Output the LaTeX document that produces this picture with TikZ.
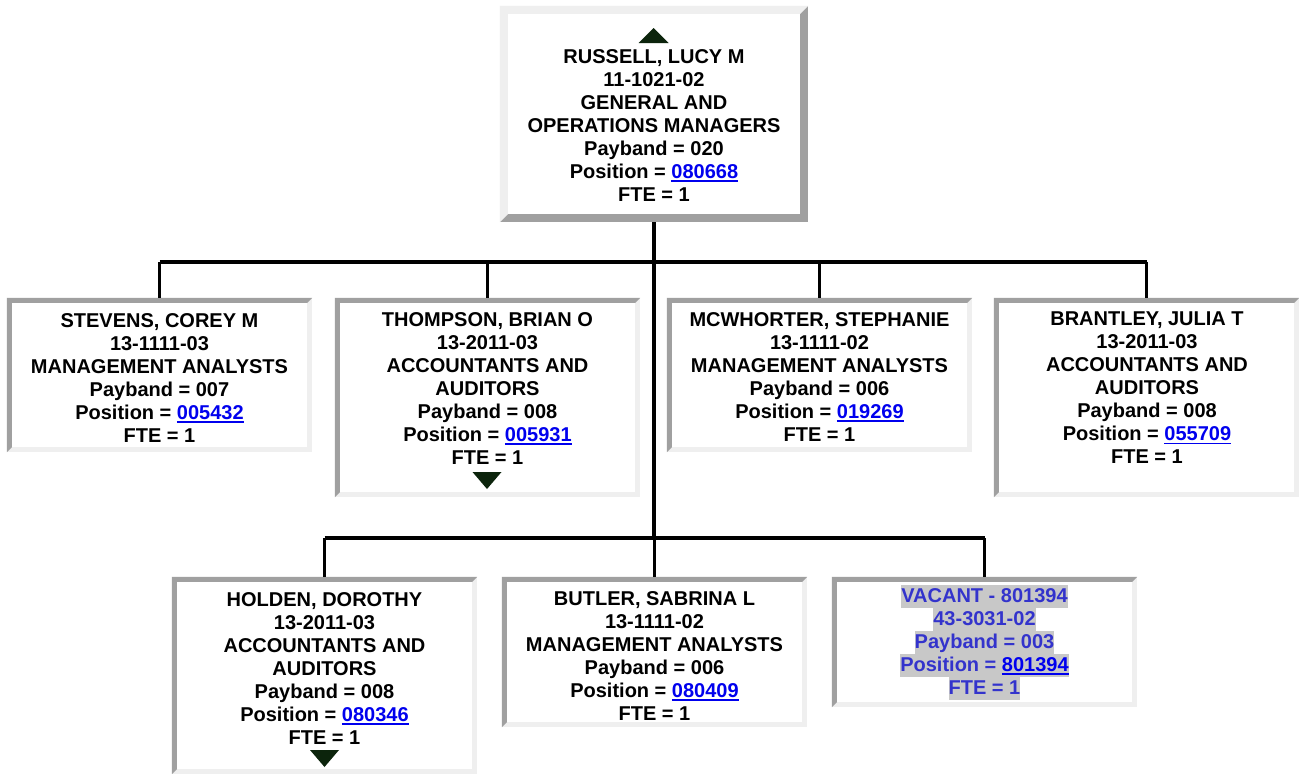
\documentclass[tikz,border=0pt]{standalone}
\usepackage{fontspec}
\setmainfont{Liberation Sans}
\definecolor{bdark}{RGB}{160,160,160}
\definecolor{blight}{RGB}{239,239,239}
\definecolor{linkblue}{RGB}{0,0,238}
\definecolor{vacblue}{RGB}{51,51,204}
\definecolor{hlgray}{RGB}{200,200,200}
\definecolor{tricol}{RGB}{12,36,12}
\newcommand\lnk[1]{{\color{linkblue}\setbox0\hbox{#1}\rlap{\copy0}\rule[-3.4pt]{\wd0}{1.7pt}}}
\newcommand\hl[1]{{\setlength\fboxsep{0pt}\colorbox{hlgray}{\rule[-5.5pt]{0pt}{23pt}#1}}}
\newcommand\bevel[4]{%
  \fill[#4] (#1.north west) rectangle (#1.south east);
  \fill[#3] (#1.north west) -- (#1.north east) -- ([shift={(-#2,-#2)}]#1.north east)
     -- ([shift={(#2,-#2)}]#1.north west) -- ([shift={(#2,#2)}]#1.south west) -- (#1.south west) -- cycle;
  \fill[white] ([shift={(#2,-#2)}]#1.north west) rectangle ([shift={(-#2,#2)}]#1.south east);}
\tikzset{
  orgbox/.style={rectangle, draw=none, inner sep=0pt, minimum width=305pt},
  txt/.style={align=center, inner sep=0pt, anchor=north,
    font=\fontsize{20}{23}\selectfont\bfseries},
  conn/.style={line width=3.6pt, black},
  tri/.style={fill=tricol}
}
\begin{document}
\begin{tikzpicture}[x=1pt,y=-1pt]
\useasboundingbox (0,0) rectangle (1299,774);
\fill[white] (0,0) rectangle (1299,774);
% boxes
\node[orgbox, minimum width=308pt, minimum height=216pt] (russell) at (654,114) {};
\node[orgbox, minimum height=154pt] (stevens) at (159.5,375) {};
\node[orgbox, minimum height=199pt] (thompson) at (487.5,397.5) {};
\node[orgbox, minimum height=154pt] (mcwhorter) at (819.5,375) {};
\node[orgbox, minimum height=199pt] (brantley) at (1146.5,397.5) {};
\node[orgbox, minimum height=197pt] (holden) at (324.5,675.5) {};
\node[orgbox, minimum height=150pt] (butler) at (654.5,652) {};
\node[orgbox, minimum height=130pt] (vacant) at (984.5,642) {};
\bevel{russell}{8pt}{blight}{bdark}
\foreach \b in {stevens,thompson,mcwhorter,brantley,holden,butler,vacant}{\bevel{\b}{5pt}{bdark}{blight}}
% connectors
\coordinate (j1) at (654,262);
\coordinate (j2) at (654,538);
\draw[conn] (russell.south) -- (j2);
\draw[conn] (stevens.north |- j1) -- (brantley.north |- j1);
\draw[conn] (holden.north |- j2) -- (vacant.north |- j2);
\foreach \b in {stevens,thompson,mcwhorter,brantley}{\draw[conn] (\b.north |- j1) -- (\b.north);}
\foreach \b in {holden,butler,vacant}{\draw[conn] (\b.north |- j2) -- (\b.north);}
% texts
\node[txt] (russell-t) at (654,49) {RUSSELL, LUCY M\\11-1021-02\\GENERAL AND\\OPERATIONS MANAGERS\\Payband = 020\\Position = \lnk{080668}\\FTE = 1};
\node[txt] (stevens-t) at (159.5,313) {STEVENS, COREY M\\13-1111-03\\MANAGEMENT ANALYSTS\\Payband = 007\\Position = \lnk{005432}\\FTE = 1};
\node[txt] (thompson-t) at (487.5,312) {THOMPSON, BRIAN O\\13-2011-03\\ACCOUNTANTS AND\\AUDITORS\\Payband = 008\\Position = \lnk{005931}\\FTE = 1};
\node[txt] (mcwhorter-t) at (819.5,312) {MCWHORTER, STEPHANIE\\13-1111-02\\MANAGEMENT ANALYSTS\\Payband = 006\\Position = \lnk{019269}\\FTE = 1};
\node[txt] (brantley-t) at (1147,312) {BRANTLEY, JULIA T\\13-2011-03\\ACCOUNTANTS AND\\AUDITORS\\Payband = 008\\Position = \lnk{055709}\\FTE = 1};
\node[txt] (holden-t) at (324.5,592) {HOLDEN, DOROTHY\\13-2011-03\\ACCOUNTANTS AND\\AUDITORS\\Payband = 008\\Position = \lnk{080346}\\FTE = 1};
\node[txt] (butler-t) at (654.5,591) {BUTLER, SABRINA L\\13-1111-02\\MANAGEMENT ANALYSTS\\Payband = 006\\Position = \lnk{080409}\\FTE = 1};
\node[txt, text=vacblue] (vacant-t) at (984.5,585) {\hl{VACANT - 801394}\\\hl{43-3031-02}\\\hl{Payband = 003}\\\hl{Position = \lnk{801394}}\\\hl{FTE = 1}};
% expand / collapse triangles
\fill[tri] (638.5,43) -- (653.5,28) -- (668.5,43) -- cycle;
\fill[tri] (472.5,472) -- (501.5,472) -- (487,489) -- cycle;
\fill[tri] (310,750) -- (339,750) -- (324.5,767) -- cycle;
\end{tikzpicture}
\end{document}
